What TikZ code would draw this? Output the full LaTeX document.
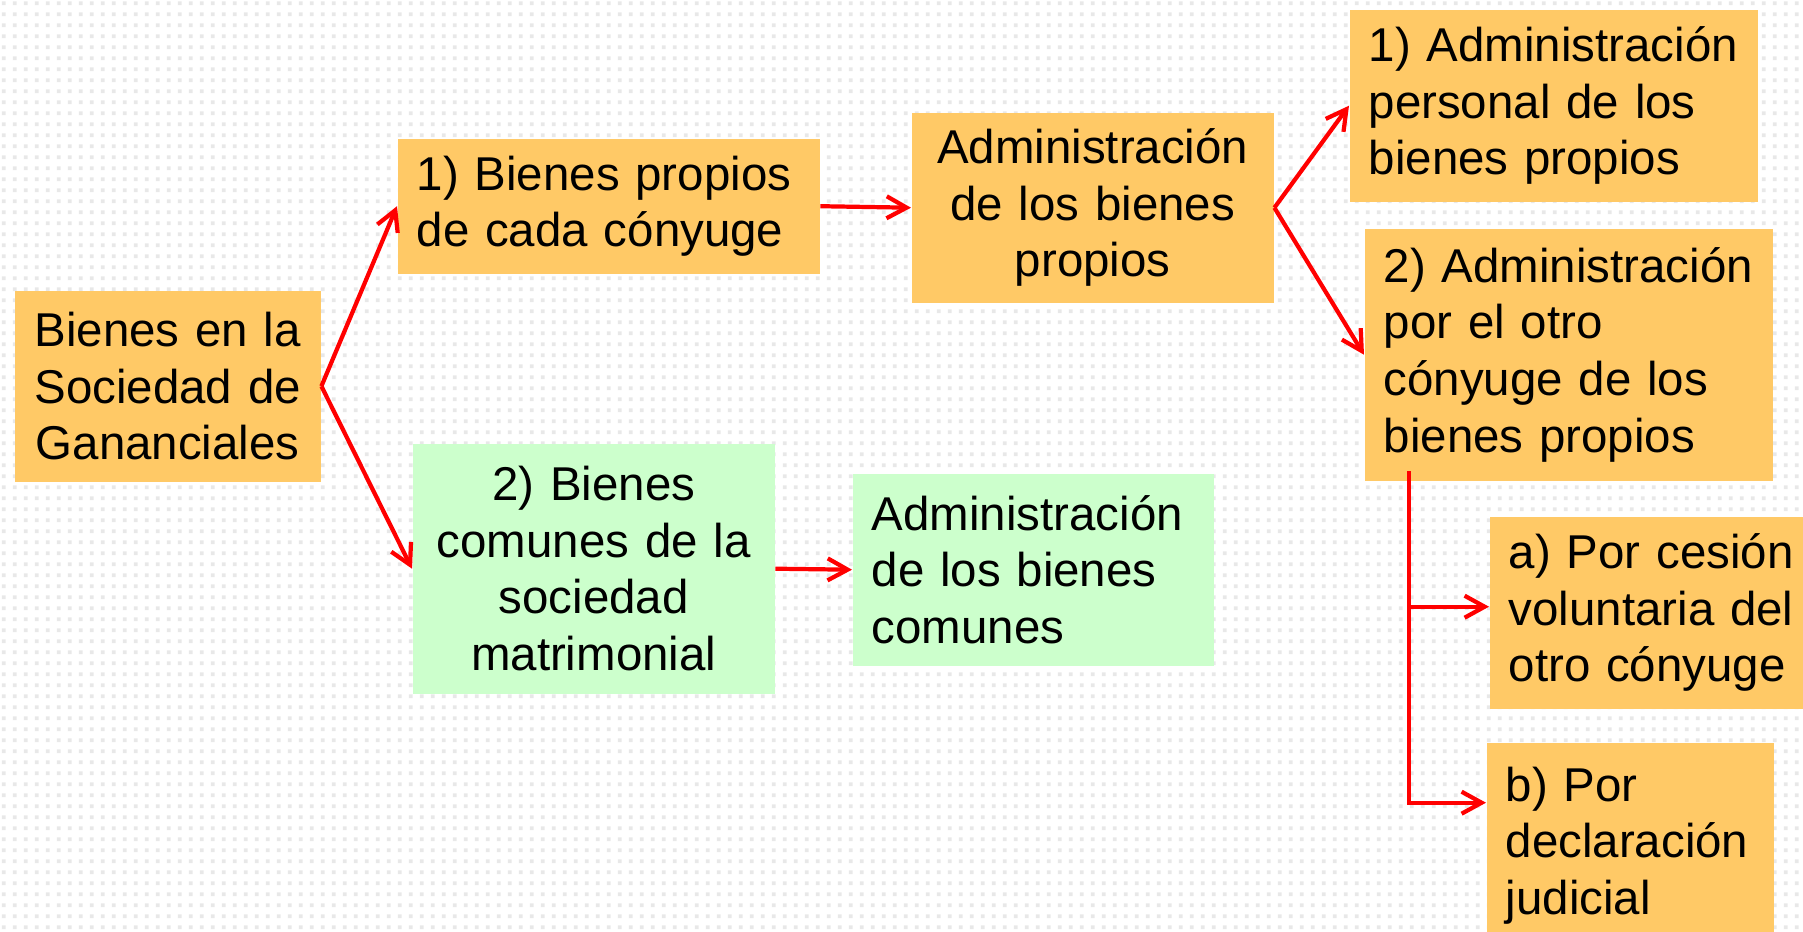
\documentclass[tikz,border=0pt]{standalone}
\usepackage{fontspec}
\setmainfont{Liberation Sans}
\usepackage{tikz}
\usetikzlibrary{arrows.meta,patterns}
\usepackage{xcolor}
\definecolor{boxgold}{HTML}{FFC966}
\definecolor{boxmint}{HTML}{CCFFCC}

\pgfdeclarepatternformonly{dotgrid}{\pgfpointorigin}{\pgfqpoint{3.13pt}{3.13pt}}{\pgfqpoint{3.13pt}{3.13pt}}{%
  \pgfpathrectangle{\pgfqpoint{0.9pt}{0.9pt}}{\pgfqpoint{1.15pt}{1.15pt}}%
  \pgfusepath{fill}}

\tikzset{
  box/.style={rectangle, inner xsep=0.19cm, inner ysep=0pt, anchor=north west,
    font=\fontsize{13.5}{16.1}\selectfont},
  gold/.style={box, fill=boxgold, align=left},
  mint/.style={box, fill=boxmint, align=left},
  link/.style={->, red, line width=1.2pt},
  >={Straight Barb[length=0.2cm,width=0.22cm]}
}

\begin{document}
\begin{tikzpicture}
  \useasboundingbox (0,0) rectangle (18.03,-9.32);
  \clip (0,0) rectangle (18.03,-9.32);
  \fill[white] (0,0) rectangle (18.03,-9.32);
  \fill[pattern=dotgrid, pattern color=black!9] (0,0) rectangle (18.03,-9.32);

  \node[gold, align=center, text width=2.68cm, minimum height=1.91cm] (root) at (0.14,-2.90)
    {Bienes en la\\Sociedad de\\Gananciales};
  \node[gold, text width=3.84cm, minimum height=1.35cm] (propios) at (3.97,-1.38)
    {1) Bienes propios\\de cada cónyuge};
  \node[mint, align=center, text width=3.24cm, minimum height=2.50cm] (comunes) at (4.12,-4.43)
    {2) Bienes\\comunes de la\\sociedad\\matrimonial};
  \node[gold, align=center, text width=3.24cm, minimum height=1.90cm] (admprop) at (9.11,-1.12)
    {Administración\\de los bienes\\propios};
  \node[mint, text width=3.23cm, minimum height=1.92cm] (admcom) at (8.52,-4.73)
    {Administración\\de los bienes\\comunes};
  \node[gold, text width=3.70cm, minimum height=1.92cm] (personal) at (13.49,-0.09)
    {1) Administración\\personal de los\\bienes propios};
  \node[gold, text width=3.70cm, minimum height=2.52cm] (otro) at (13.64,-2.28)
    {2) Administración\\por el otro\\cónyuge de los\\bienes propios};
  \node[gold, text width=3.20cm, minimum height=1.92cm] (cesion) at (14.89,-5.16)
    {a) Por cesión\\voluntaria del\\otro cónyuge};
  \node[gold, text width=2.49cm, minimum height=2.06cm] (judicial) at (14.86,-7.42)
    {b) Por\\declaración\\judicial};

  \draw[link] (root.east) -- (propios.west);
  \draw[link] (root.east) -- (comunes.west);
  \draw[link] (propios.east) -- (admprop.west);
  \draw[link] (comunes.east) -- (admcom.west);
  \draw[link] (admprop.east) -- (personal.west);
  \draw[link] (admprop.east) -- (otro.west);

  \coordinate (trunk) at ([xshift=0.45cm,yshift=0.1cm]otro.south west);
  \draw[link] (trunk) |- ([yshift=0.06cm]cesion.west);
  \draw[link] (trunk) |- ([yshift=0.43cm]judicial.west);
\end{tikzpicture}
\end{document}
